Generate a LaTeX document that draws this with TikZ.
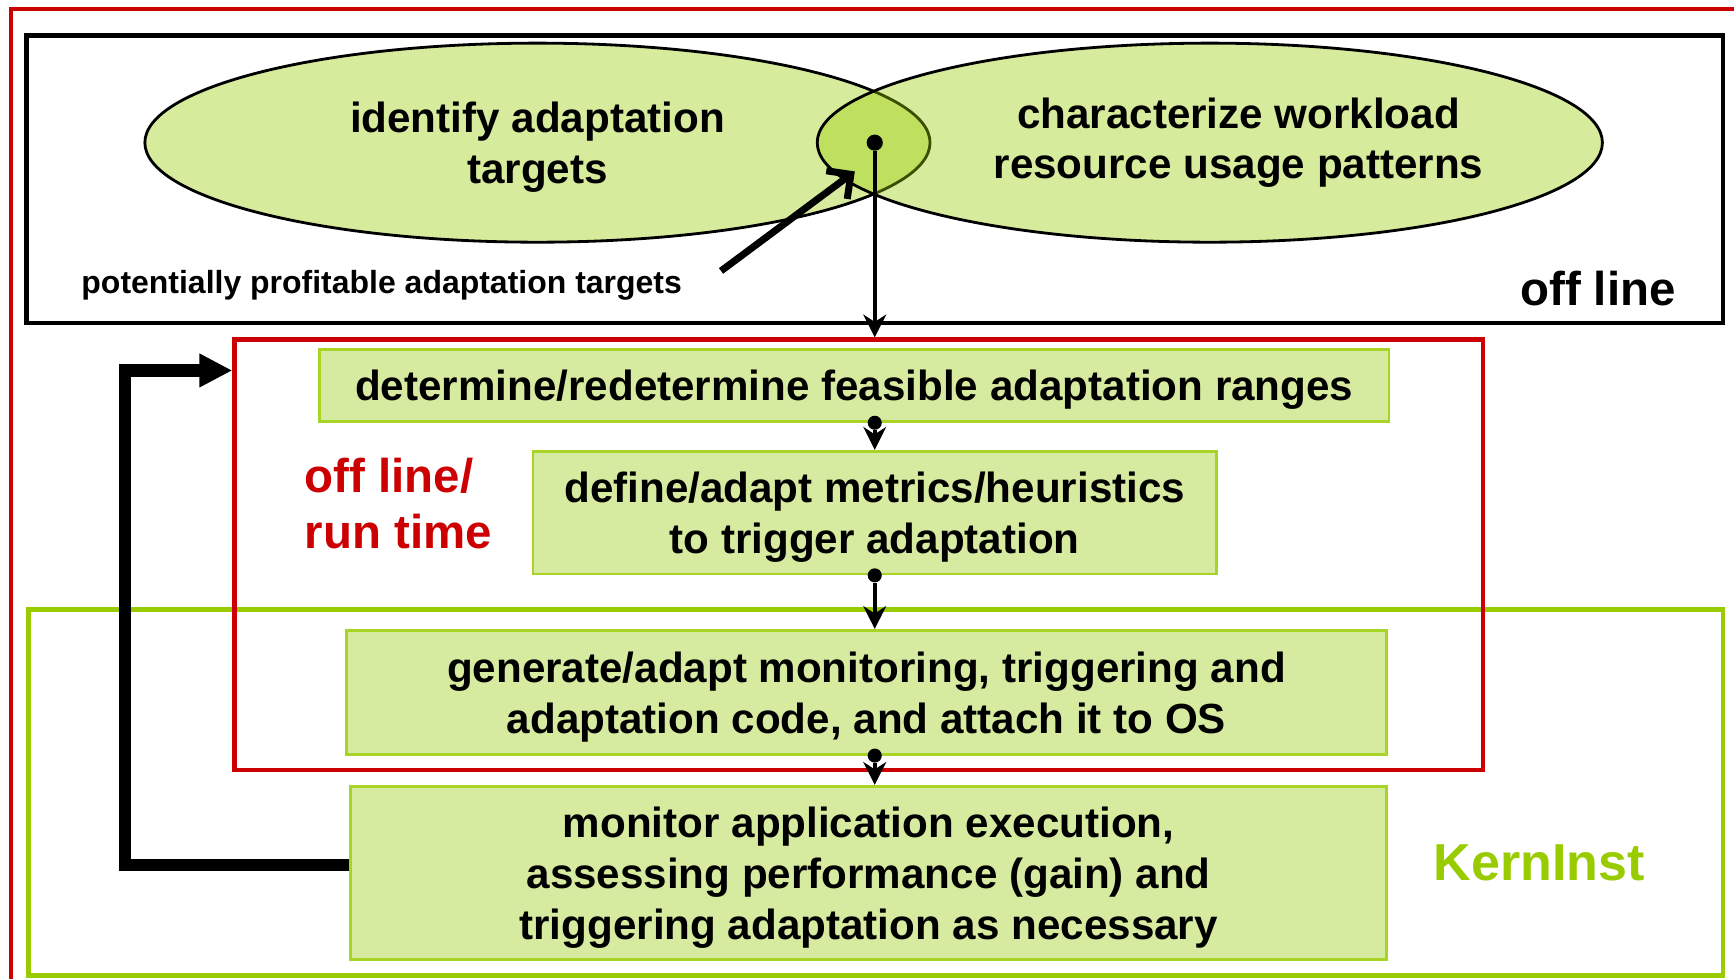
\documentclass[tikz,border=0pt]{standalone}
\usepackage{fontspec}
\setmainfont{Liberation Sans}
\usetikzlibrary{calc, positioning, fit}
\usetikzlibrary{arrows.meta}
\usetikzlibrary{shapes.geometric}
\definecolor{kgreen}{RGB}{153,204,0}
\definecolor{boxfill}{RGB}{215,235,160}
\definecolor{kred}{RGB}{204,0,0}
\def\px{0.01106cm}
\tikzset{
    frame/.style = {
        draw, rectangle, line width=1.3pt, inner sep=0pt
    },
    stagebox/.style = {
        draw=kgreen!85, line width=0.8pt, fill=boxfill, align=center, inner sep=0pt, text depth=0pt,
        font=\fontsize{12}{14.5}\selectfont\bfseries
    },
    oval/.style = {
        ellipse, draw, line width=0.8pt, fill=kgreen, fill opacity=0.39,
        minimum width=710*\px, minimum height=180*\px, inner sep=0pt
    },
    ovaltext/.style = {
        align=center, inner sep=0pt, text depth=0pt, font=\fontsize{12}{14.5}\selectfont\bfseries
    },
    flow/.style = {
        line width=1pt, -{Stealth[length=6.5pt, width=6.5pt]}
    },
    dot/.style = {
        circle, fill, inner sep=0pt, minimum size=4.4pt
    },
}
\begin{document}
\begin{tikzpicture}[x=0.01106cm, y=-0.01106cm]
        \useasboundingbox (0,0) rectangle (1568,885);
        \clip (0,0) rectangle (1568,885);

        % Frames
        \node [frame, draw=kred, line width=1pt, fit={(10,8) (1600,920)}] (outer) {};
        \node [frame, fit={(24,32) (1558,292)}] (off) {};

        % Ovals
        \node [oval] (targets) at (486,129) {};
        \node [oval] (workload) at (1094,129) {};
        \node [ovaltext] (targetstext) at (486,129) {identify adaptation\\targets};
        \node [ovaltext] (workloadtext) at (1120,125) {characterize workload\\resource usage patterns};
        \node [dot, minimum size=4.6pt] (hub) at (791,129) {};

        % Pointer to the overlap
        \node [anchor=west, inner sep=0pt, text depth=0pt, font=\fontsize{9.1}{11}\selectfont\bfseries] (profit) at (73,255) {potentially profitable adaptation targets};
        \coordinate (tail) at (652,245);
        \coordinate (lens) at (773,155);
        \draw [line width=2pt, -{Straight Barb[length=5pt, width=10pt]}] (tail) -- (lens);
        \node [font=\fontsize{13.5}{16}\selectfont\bfseries, inner sep=0pt] (offlabel) at (1445,261) {off line};

        % Kerninst and run time frames
        \node [frame, draw=kgreen, fit={(26,551) (1558,882)}] (kern) {};
        \node [frame, draw=kred, line width=1.2pt, fit={(212,307) (1341,696)}] (rt) {};
        \node [text=kred, anchor=west, align=left, inner sep=0pt, font=\fontsize{13.5}{16}\selectfont\bfseries] (rtlabel) at (275,455) {off line/\\run time};
        \node [text=kgreen, inner sep=0pt, font=\fontsize{14.8}{17}\selectfont\bfseries] (kernlabel) at (1392,780) {KernInst};

        % Place the stages
        \node [stagebox, minimum width=967*\px, minimum height=65*\px] (ranges) at (772.5,348.5) {determine/redetermine feasible adaptation ranges};
        \node [stagebox, minimum width=618*\px, minimum height=111*\px] (metrics) at (791,463.5) {define/adapt metrics/heuristics\\to trigger adaptation};
        \node [stagebox, minimum width=941*\px, minimum height=112*\px] (codegen) at (783.5,626) {generate/adapt monitoring, triggering and\\adaptation code, and attach it to OS};
        \node [stagebox, minimum width=937*\px, minimum height=157*\px] (monitor) at (785.5,789.5) {monitor application execution,\\assessing performance (gain) and\\triggering adaptation as necessary};

        % Draw connections
        \draw [flow] (hub) -- (hub |- rt.north);
        \node [dot, minimum size=4pt] (d1) at (ranges.south -| metrics.north) {};
        \draw [flow] (d1) -- (metrics.north);
        \node [dot, minimum size=4pt] (d2) at (metrics.south) {};
        \draw [flow] (d2) -- (d2 |- codegen.north);
        \node [dot, minimum size=4pt] (d3) at (codegen.south -| metrics.south) {};
        \draw [flow] (d3) -- (d3 |- monitor.north);

        % Feedback loop
        \coordinate (loopbot) at (113,782);
        \coordinate (looptop) at (113,335);
        \draw [line width=3.5pt, -{Triangle[length=9.4pt, width=9pt]}] (loopbot -| monitor.west) -- (loopbot) -- (looptop) -- (looptop -| rt.west);
    \end{tikzpicture}
\end{document}
